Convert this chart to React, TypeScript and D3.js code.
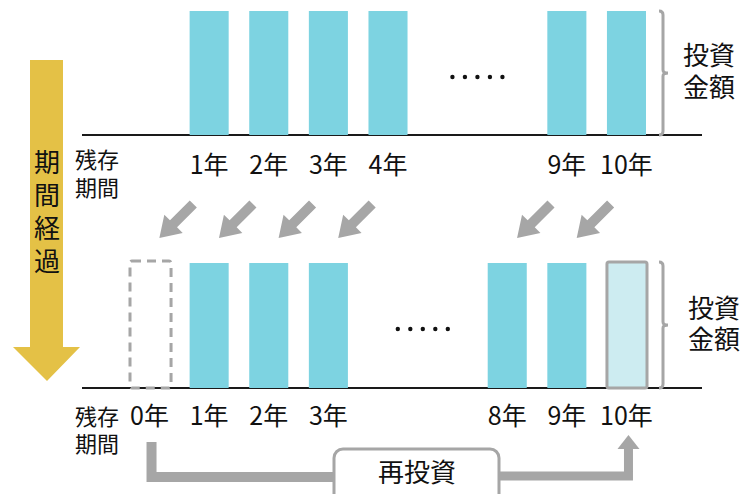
import * as d3 from 'd3';

// Slot layout shared by both panels (index 0..8)
const topCategories = [null, '1年', '2年', '3年', '4年', '…', '…', '9年', '10年'];
const topValues = [0, 1, 1, 1, 1, 0, 0, 1, 1];
const bottomCategories = ['0年', '1年', '2年', '3年', '…', '…', '8年', '9年', '10年'];
const bottomValues = [1, 1, 1, 1, 0, 0, 1, 1, 1];
const bottomStatus = ['matured', 'held', 'held', 'held', 'gap', 'gap', 'held', 'held', 'reinvested'];
// each held bar in the top panel slides one slot left
const shifts = [
  [1, 0],
  [2, 1],
  [3, 2],
  [4, 3],
  [7, 6],
  [8, 7],
];
const elapsedChars = ['期', '間', '経', '過'];

const W = 755;
const H = 494;
const FONT = '"Noto Sans CJK JP", "Noto Sans", sans-serif';
const BAR = '#7dd3e1';
const GRAY = '#a6a6a6';
const GOLD = '#e4c146';

const x = d3.scaleBand<number>()
  .domain(d3.range(9))
  .range([130, 646])
  .paddingInner(0.345)
  .paddingOuter(0);

const yTop = d3.scaleLinear().domain([0, 1]).range([135, 11]);
const yBottom = d3.scaleLinear().domain([0, 1]).range([388, 263]);

const Brace = ({ x0, y0, y1 }: { x0: number; y0: number; y1: number }) => {
  const mid = (y0 + y1) / 2;
  const p = d3.path();
  p.moveTo(x0 - 4, y0);
  p.quadraticCurveTo(x0, y0, x0, y0 + 4);
  p.lineTo(x0, mid - 3);
  p.quadraticCurveTo(x0, mid, x0 + 5, mid);
  p.quadraticCurveTo(x0, mid, x0, mid + 3);
  p.lineTo(x0, y1 - 4);
  p.quadraticCurveTo(x0, y1, x0 - 4, y1);
  return <path d={p.toString()} fill="none" stroke={GRAY} strokeWidth={3} />;
};

const Dots = ({ cx, cy }: { cx: number; cy: number }) => (
  <g>
    {d3.range(5).map(i => (
      <circle key={i} cx={cx + (i - 2) * 12.5} cy={cy} r={2.2} fill="#111" />
    ))}
  </g>
);

const TwoLines = ({ x0, y0, lines, size, gap }: { x0: number; y0: number; lines: string[]; size: number; gap: number }) => (
  <g>
    {lines.map((l, i) => (
      <text key={i} x={x0} y={y0 + i * gap} fontSize={size} fontFamily={FONT} fill="#111">{l}</text>
    ))}
  </g>
);

const App = () => {
  const bw = x.bandwidth();
  const cx = (i: number) => (x(i) as number) + bw / 2;

  // diagonal arrow drawn along +x, rotated to point down-left
  const arrowPath = 'M-24,-5 L4,-5 L4,-13 L24,0 L4,13 L4,5 L-24,5 Z';

  return (
    <svg width={W} height={H} style={{ position: 'absolute', left: 0, top: 0, background: '#fff' }}>
      {/* elapsed-time arrow */}
      <path d="M30,60 H63 V347 H80 L47,381 L13,347 H30 Z" fill={GOLD} />
      {elapsedChars.map((c, i) => (
        <text key={i} x={47} y={172 + i * 33} fontSize={26} fontFamily={FONT} fill="#111" textAnchor="middle">{c}</text>
      ))}

      {/* top panel */}
      <line x1={82} x2={702} y1={135} y2={135} stroke="#1a1a1a" strokeWidth={2} />
      {topValues.map((v, i) => v > 0 && (
        <rect key={i} x={x(i)} y={yTop(v)} width={bw} height={yTop(0) - yTop(v)} fill={BAR} />
      ))}
      {topCategories.map((c, i) => c && c !== '…' && (
        <text key={i} x={cx(i)} y={174} textAnchor="middle" fontSize={25} fontFamily={FONT} fill="#111">{c}</text>
      ))}
      <Dots cx={(cx(5) + cx(6)) / 2} cy={77} />
      <Brace x0={663} y0={yTop(1)} y1={yTop(0)} />
      <TwoLines x0={683} y0={65} lines={['投資', '金額']} size={26} gap={32} />
      <TwoLines x0={75} y0={168} lines={['残存', '期間']} size={22} gap={28} />

      {/* arrows between panels */}
      {shifts.map(([from, to]) => {
        const mx = (cx(from) + cx(to)) / 2 - 3;
        return (
          <path key={from} d={arrowPath} fill={GRAY} transform={`translate(${mx},221) rotate(135)`} />
        );
      })}

      {/* bottom panel */}
      <line x1={82} x2={702} y1={388} y2={388} stroke="#1a1a1a" strokeWidth={2} />
      {bottomValues.map((v, i) => {
        const s = bottomStatus[i];
        if (s === 'gap') return null;
        if (s === 'matured') {
          return (
            <rect key={i} x={x(i)} y={yBottom(v) - 2} width={bw + 2} height={yBottom(0) - yBottom(v) + 2}
              fill="none" stroke={GRAY} strokeWidth={3} strokeDasharray="9 6" rx={2} />
          );
        }
        if (s === 'reinvested') {
          return (
            <rect key={i} x={x(i)} y={yBottom(v) - 1} width={bw + 1} height={yBottom(0) - yBottom(v) + 1}
              fill="#cdecf1" stroke={GRAY} strokeWidth={3} rx={2} />
          );
        }
        return <rect key={i} x={x(i)} y={yBottom(v)} width={bw} height={yBottom(0) - yBottom(v)} fill={BAR} />;
      })}
      {bottomCategories.map((c, i) => c !== '…' && (
        <text key={i} x={cx(i)} y={425} textAnchor="middle" fontSize={25} fontFamily={FONT} fill="#111">{c}</text>
      ))}
      <Dots cx={(cx(4) + cx(5)) / 2 + 5} cy={329} />
      <Brace x0={663} y0={yBottom(1) - 1} y1={yBottom(0)} />
      <TwoLines x0={688} y0={318} lines={['投資', '金額']} size={26} gap={31} />
      <TwoLines x0={75} y0={425} lines={['残存', '期間']} size={22} gap={27} />

      {/* reinvestment flow */}
      <path d={`M${cx(0) + 2},442 V477 H334`} fill="none" stroke={GRAY} strokeWidth={10} />
      <path d={`M499,476 H${cx(8) + 2} V447`} fill="none" stroke={GRAY} strokeWidth={9} />
      <path d={`M${cx(8) - 9},449 H${cx(8) + 13} L${cx(8) + 2},435 Z`} fill={GRAY} />
      <rect x={334} y={449} width={165} height={60} rx={9} fill="#fff" stroke={GRAY} strokeWidth={3} />
      <text x={417} y={482} textAnchor="middle" fontSize={26} fontFamily={FONT} fill="#111">再投資</text>
    </svg>
  );
};

export default App;
